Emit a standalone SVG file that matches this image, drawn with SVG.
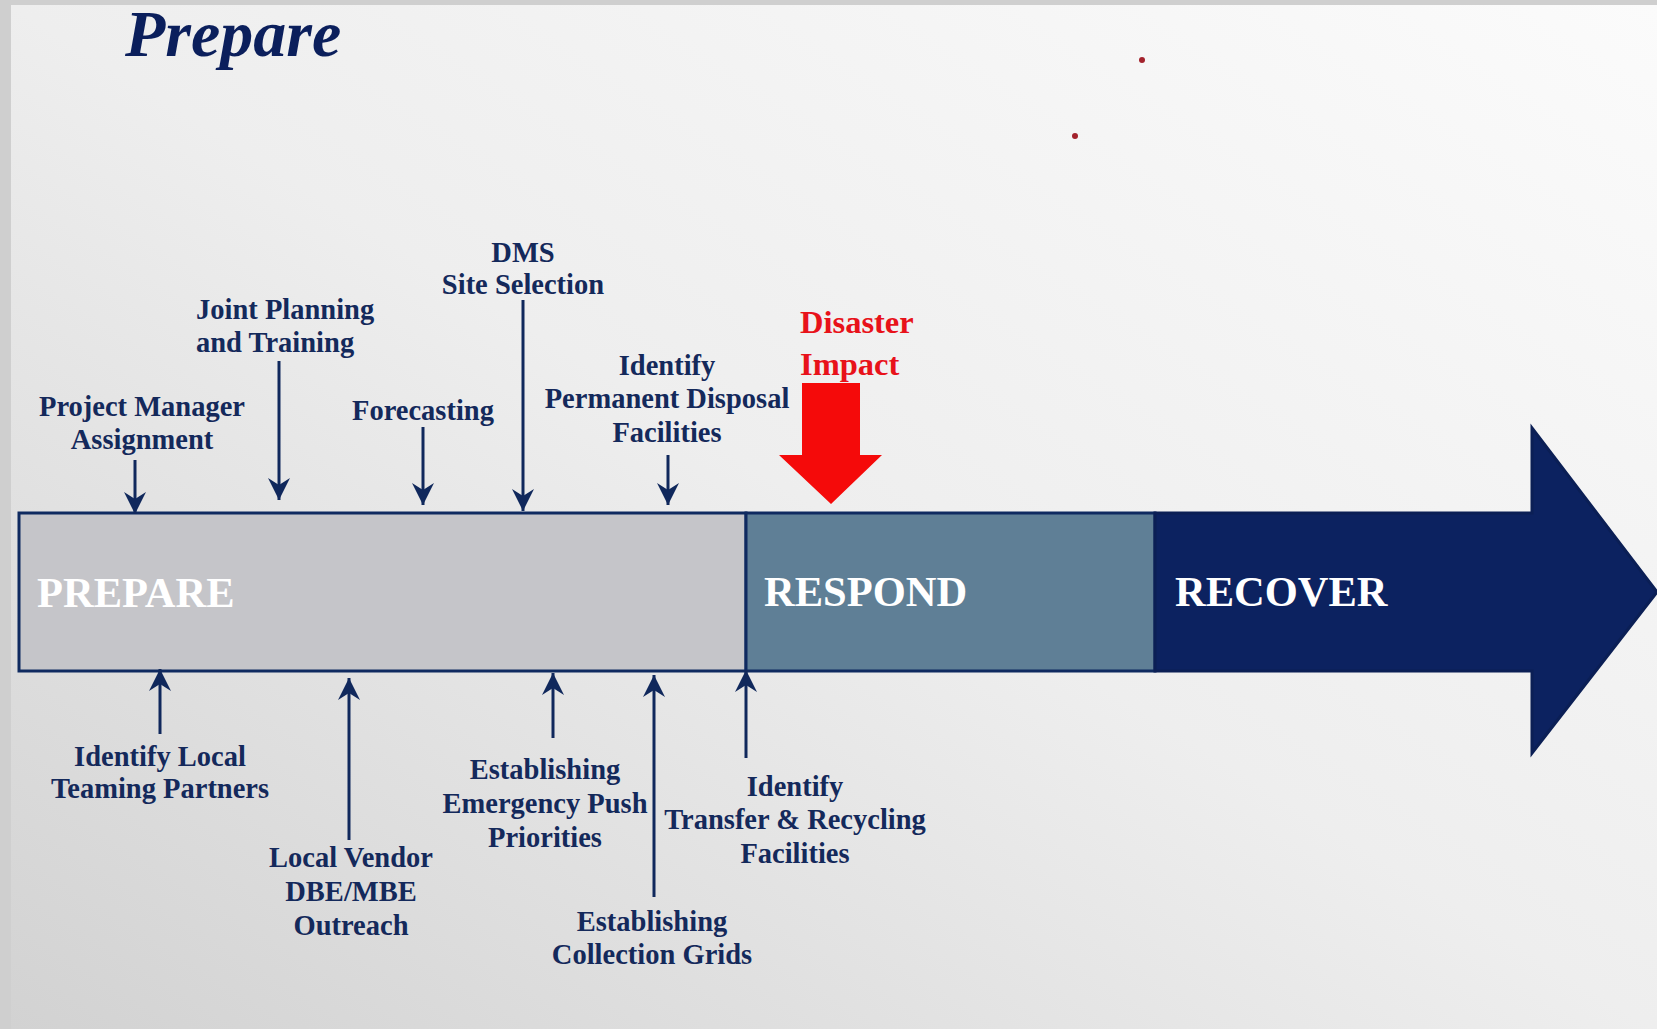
<svg xmlns="http://www.w3.org/2000/svg" width="1657" height="1029" viewBox="0 0 1657 1029">
<style>
.lbl{font-family:"Liberation Serif","Times New Roman",serif;font-weight:bold;font-size:28.5px;fill:#14295b;}
.mid{text-anchor:middle;}
.phase{font-family:"Liberation Serif","Times New Roman",serif;font-weight:bold;font-size:42.5px;fill:#ffffff;}
.red{font-family:"Liberation Serif","Times New Roman",serif;font-weight:bold;font-size:32.5px;fill:#e8121a;}
.conn{stroke:#10285c;stroke-width:3;fill:none;marker-end:url(#ah);}
</style>
<defs>
<linearGradient id="bg" x1="1" y1="0" x2="0" y2="1">
<stop offset="0" stop-color="#fbfbfb"/>
<stop offset="0.5" stop-color="#eeeeee"/>
<stop offset="1" stop-color="#d2d2d2"/>
</linearGradient>
<marker id="ah" markerUnits="userSpaceOnUse" markerWidth="24" markerHeight="24" viewBox="0 0 24 24" refX="22" refY="12" orient="auto">
<path d="M0,1 L22,12 L0,23 L7,12 Z" fill="#10285c"/>
</marker>
</defs>
<rect width="1657" height="1029" fill="#cfcfcf"/>
<rect x="11" y="5" width="1646" height="1024" fill="url(#bg)"/>
<g id="dots">
<circle cx="1142" cy="60" r="3" fill="#a3222c"/>
<circle cx="1075" cy="136" r="3" fill="#a3222c"/>
</g>
<g id="title"><text x="125" y="56" font-family="Liberation Serif, Times New Roman, serif" font-weight="bold" font-style="italic" font-size="66" fill="#0b1f5c">Prepare</text></g>

<g id="phase-prepare">
<rect x="19" y="513" width="727" height="158" fill="#c5c5c9" stroke="#0f2a60" stroke-width="3"/>
<text class="phase" x="37" y="607">PREPARE</text>
</g>
<g id="phase-respond">
<rect x="746" y="513" width="409" height="158" fill="#5f7f96" stroke="#0f2a60" stroke-width="3"/>
<text class="phase" x="764" y="606">RESPOND</text>
</g>
<g id="phase-recover">
<path d="M1155,513 L1532,513 L1532,428 L1657,592 L1532,753 L1532,671 L1155,671 Z" fill="#0c2260" stroke="#0b1f55" stroke-width="3"/>
<text class="phase" x="1175" y="606">RECOVER</text>
</g>

<g id="disaster-impact">
<text class="red" x="800" y="333">Disaster</text>
<text class="red" x="800" y="375">Impact</text>
<path d="M802,383 L860,383 L860,455 L882,455 L831,504 L779,455 L802,455 Z" fill="#f50a0a"/>
</g>

<g id="connectors">
<line class="conn" x1="135" y1="460" x2="135" y2="514"/>
<line class="conn" x1="279" y1="361" x2="279" y2="500"/>
<line class="conn" x1="423" y1="427" x2="423" y2="505"/>
<line class="conn" x1="523" y1="300" x2="523" y2="511"/>
<line class="conn" x1="668" y1="455" x2="668" y2="505"/>
<line class="conn" x1="160" y1="734" x2="160" y2="669"/>
<line class="conn" x1="349" y1="840" x2="349" y2="678"/>
<line class="conn" x1="553" y1="738" x2="553" y2="673"/>
<line class="conn" x1="654" y1="897" x2="654" y2="675"/>
<line class="conn" x1="746" y1="758" x2="746" y2="670"/>
</g>

<g id="lbl-pm">
<text class="lbl mid" x="142" y="416">Project Manager</text>
<text class="lbl mid" x="142" y="449">Assignment</text>
</g>
<g id="lbl-joint">
<text class="lbl" x="196" y="319">Joint Planning</text>
<text class="lbl" x="196" y="352">and Training</text>
</g>
<g id="lbl-forecast">
<text class="lbl mid" x="423" y="420">Forecasting</text>
</g>
<g id="lbl-dms">
<text class="lbl mid" x="523" y="262">DMS</text>
<text class="lbl mid" x="523" y="294">Site Selection</text>
</g>
<g id="lbl-perm">
<text class="lbl mid" x="667" y="375">Identify</text>
<text class="lbl mid" x="667" y="408">Permanent Disposal</text>
<text class="lbl mid" x="667" y="442">Facilities</text>
</g>
<g id="lbl-teaming">
<text class="lbl mid" x="160" y="766">Identify Local</text>
<text class="lbl mid" x="160" y="798">Teaming Partners</text>
</g>
<g id="lbl-vendor">
<text class="lbl mid" x="351" y="867">Local Vendor</text>
<text class="lbl mid" x="351" y="901">DBE/MBE</text>
<text class="lbl mid" x="351" y="935">Outreach</text>
</g>
<g id="lbl-push">
<text class="lbl mid" x="545" y="779">Establishing</text>
<text class="lbl mid" x="545" y="813">Emergency Push</text>
<text class="lbl mid" x="545" y="847">Priorities</text>
</g>
<g id="lbl-grids">
<text class="lbl mid" x="652" y="931">Establishing</text>
<text class="lbl mid" x="652" y="964">Collection Grids</text>
</g>
<g id="lbl-transfer">
<text class="lbl mid" x="795" y="796">Identify</text>
<text class="lbl mid" x="795" y="829">Transfer &amp; Recycling</text>
<text class="lbl mid" x="795" y="863">Facilities</text>
</g>
</svg>
